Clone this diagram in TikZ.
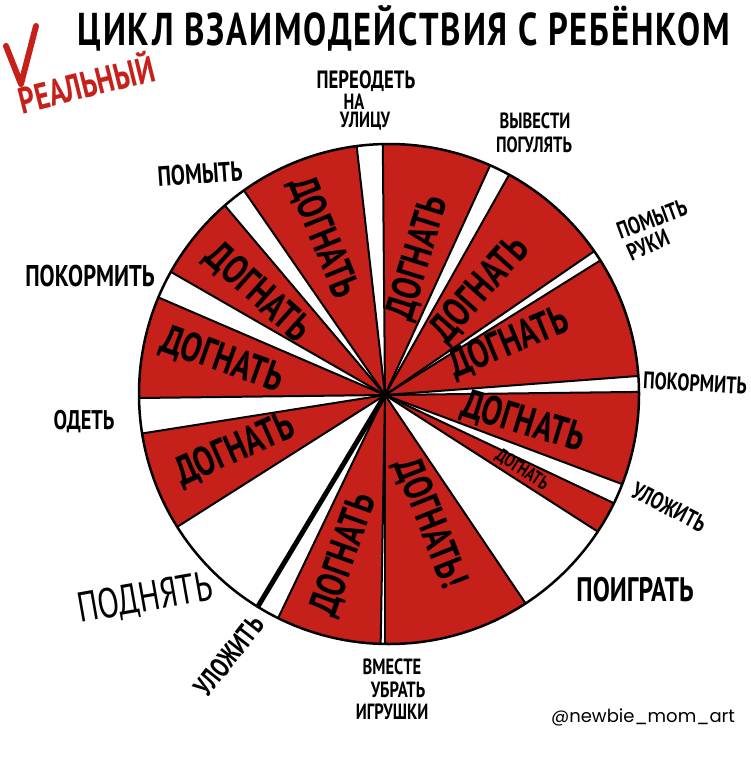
\documentclass[tikz,border=0pt]{standalone}
\usepackage{fontspec}
\setmainfont{PT Sans}
\newfontfamily\handfont{PT Sans}[FakeStretch=0.75]
\newfontfamily\titlefont{PT Sans}[FakeStretch=0.75,LetterSpace=4]
\newfontfamily\markfont{Poppins}
\definecolor{piered}{RGB}{198,32,26}
\begin{document}
\begin{tikzpicture}[x=1pt,y=-1pt,
  lbl/.style={font=\handfont\bfseries\fontsize{#1}{#1}\selectfont, inner sep=0pt, text=black},
  lbl/.default=24,
  thin/.style={font=\handfont\fontsize{#1}{#1}\selectfont, inner sep=0pt, text=black},
  thin/.default=24,
  dog/.style={lbl=#1},
  dog/.default=41,
  edge/.style={line width=2pt, black},
  rim/.style={line width=2.5pt, black}]
\useasboundingbox (0,0) rectangle (750,762);
\fill[white] (0,0) rectangle (750,762);
% pie
\begin{scope}
  \clip (389,394) circle (250pt);
  \begin{scope}[shift={(385,395)}]
    \foreach \a/\b in {96.5/124.6, 65.4/90.5, 34.5/60.6, 4.3/32, -20.6/0.7, -32.7/-25.3, -90/-56, -115.6/-91, -171/-147.6, 156.7/180.7, 130.2/150.1}
      \fill[piered] (0,0) -- (-\a:420) -- ({-(\a+\b)/2}:420) -- (-\b:420) -- cycle;
    \foreach \a in {96.5, 90.5, 65.4, 60.6, 34.5, 32, 4.3, 0.7, -20.6, -25.3, -32.7, -56, -90, -91, -115.6, -147.6, -171, 180.7, 156.7, 150.1, 130.2, 124.6}
      \draw[edge] (0,0) -- (-\a:420);
    \draw[line width=5pt] (0,0) -- (121:420);
  \end{scope}
\end{scope}
\draw[rim] (389,394) circle (250pt);
% title
\draw[piered, line width=6pt, line cap=round, line join=round] (6,46) -- (21,84) -- (36,26);
\node[font=\titlefont\bfseries\fontsize{46}{46}\selectfont, inner sep=0pt] (title) at (404,28) {ЦИКЛ ВЗАИМОДЕЙСТВИЯ С РЕБЁНКОМ};
\node[lbl=37, text=piered, rotate=14] (real) at (86,82) {РЕАЛЬНЫЙ};
% outer labels
\node[lbl=25] (pereodet) at (366,81) {ПЕРЕОДЕТЬ};
\node[lbl=22] (na) at (354,102) {НА};
\node[lbl=22] (ulitsu) at (365,121) {УЛИЦУ};
\node[lbl=22] (vyvesti) at (535,121) {ВЫВЕСТИ};
\node[lbl=22] (poguliat) at (534,145) {ПОГУЛЯТЬ};
\node[lbl=24, rotate=20] (pomyt2) at (652,219) {ПОМЫТЬ};
\node[lbl=24, rotate=24] (ruki) at (648,245) {РУКИ};
\node[lbl=24, rotate=-3] (pokorm2) at (695,383) {ПОКОРМИТЬ};
\node[lbl=24, rotate=-27] (ulozh2) at (669,507) {УЛОЖИТЬ};
\node[lbl=34] (poigrat) at (635,590) {ПОИГРАТЬ};
\node[lbl=22] (vmeste) at (392,667) {ВМЕСТЕ};
\node[lbl=22] (ubrat) at (398,690) {УБРАТЬ};
\node[lbl=22] (igrushki) at (392,712) {ИГРУШКИ};
\node[font=\markfont\fontsize{18}{18}\selectfont, inner sep=0pt] (mark) at (643,717) {@newbie\_mom\_art};
\node[lbl=28, rotate=52] (ulozh1) at (229,656) {УЛОЖИТЬ};
\node[thin=42, rotate=10] (podniat) at (145,599) {ПОДНЯТЬ};
\node[lbl=27] (odet) at (84,422) {ОДЕТЬ};
\node[lbl=30] (pokorm1) at (90,276) {ПОКОРМИТЬ};
\node[lbl=28, rotate=4] (pomyt1) at (200,174) {ПОМЫТЬ};
% sector texts
\node[dog, rotate=-68] (d1) at (323,238) {ДОГНАТЬ};
\node[dog, rotate=-42] (d2) at (258,293) {ДОГНАТЬ};
\node[dog, rotate=-19.6] (d3) at (222,360) {ДОГНАТЬ};
\node[dog, rotate=23.8] (d4) at (235,450) {ДОГНАТЬ};
\node[dog, rotate=70.5] (d5) at (344,555) {ДОГНАТЬ};
\node[dog, rotate=-68.4] (d6) at (430,523) {ДОГНАТЬ!};
\node[dog=19, rotate=-33] (d7) at (522,470) {ДОГНАТЬ};
\node[dog, rotate=-17] (d8) at (523,422) {ДОГНАТЬ};
\node[dog, rotate=22.5] (d9) at (509,343) {ДОГНАТЬ};
\node[dog, rotate=48.5] (d10) at (480,290) {ДОГНАТЬ};
\node[dog, rotate=73] (d11) at (418,258) {ДОГНАТЬ};
\end{tikzpicture}
\end{document}
